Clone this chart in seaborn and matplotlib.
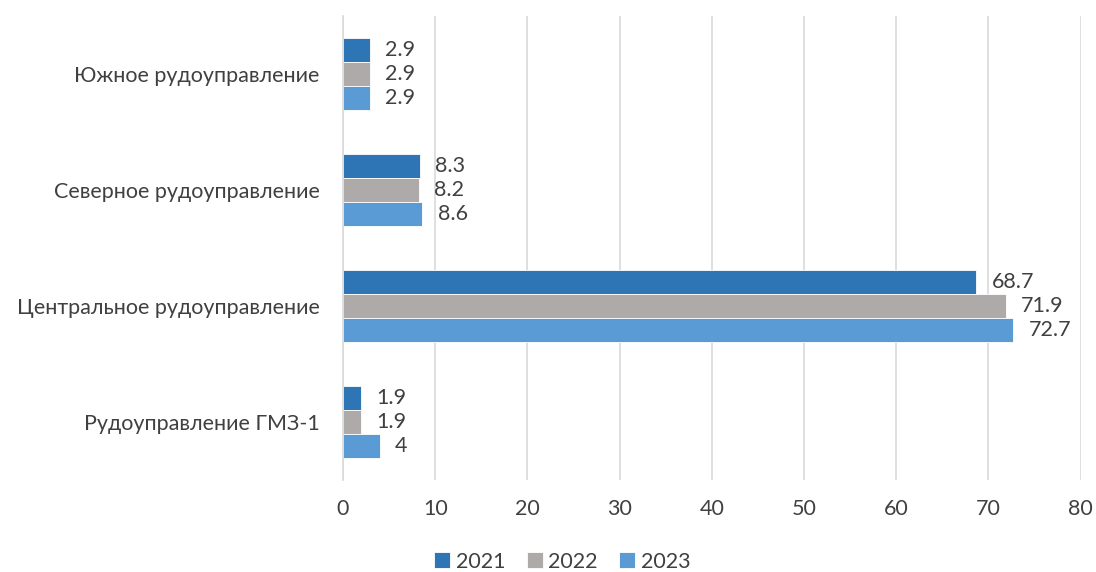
import matplotlib
matplotlib.use("Agg")
import matplotlib.pyplot as plt
import seaborn as sns
import pandas as pd

categories = ["Южное рудоуправление", "Северное рудоуправление",
              "Центральное рудоуправление", "Рудоуправление ГМЗ-1"]
years = ["2021", "2022", "2023"]
v2021 = [2.9, 8.3, 68.7, 1.9]
v2022 = [2.9, 8.2, 71.9, 1.9]
v2023 = [2.9, 8.6, 72.7, 4]
labels = {"2021": ["2.9", "8.3", "68.7", "1.9"],
          "2022": ["2.9", "8.2", "71.9", "1.9"],
          "2023": ["2.9", "8.6", "72.7", "4"]}
xticks = [0, 10, 20, 30, 40, 50, 60, 70, 80]

rows = []
for y, vals in zip(years, [v2021, v2022, v2023]):
    for c, v in zip(categories, vals):
        rows.append({"cat": c, "year": y, "val": v})
df = pd.DataFrame(rows)

sns.set_theme(style="white")
plt.rcParams['font.family'] = ['Lato', 'DejaVu Sans']
txt = "#404040"
fs = 15.5

fig = plt.figure(figsize=(10.96, 5.72), dpi=100)
ax = fig.add_axes([0.313, 0.161, 0.673, 0.811])
palette = {"2021": "#2E75B6", "2022": "#AEAAAA", "2023": "#5B9BD5"}
sns.barplot(data=df, y="cat", x="val", hue="year", order=categories,
            hue_order=years, palette=palette, orient="h", width=0.62,
            ax=ax, saturation=1, edgecolor="white", linewidth=0.6)

for cont, y in zip(ax.containers, years):
    ax.bar_label(cont, labels=labels[y], padding=11, fontsize=fs, color=txt)

ax.set_xlim(0, 80)
ax.set_xticks(xticks)
ax.set_xticklabels([str(t) for t in xticks])
ax.grid(axis="x", color="#D9D9D9", linewidth=1.2)
ax.set_axisbelow(True)
for s in ["top", "right", "bottom"]:
    ax.spines[s].set_visible(False)
ax.spines["left"].set_color("#D9D9D9")
ax.spines["left"].set_linewidth(1.2)
ax.set_xlabel("")
ax.set_ylabel("")
ax.tick_params(axis="both", labelsize=fs, colors=txt, length=0)
ax.tick_params(axis="x", pad=14)
ax.tick_params(axis="y", pad=17)

leg = ax.legend(loc="center", bbox_to_anchor=(0.297, -0.176),
                ncol=3, frameon=False, fontsize=fs, handlelength=0.75,
                handleheight=0.75, columnspacing=1.0, handletextpad=0.25,
                borderpad=0.2)
for t in leg.get_texts():
    t.set_color(txt)

fig.savefig("out.png", dpi=100)
